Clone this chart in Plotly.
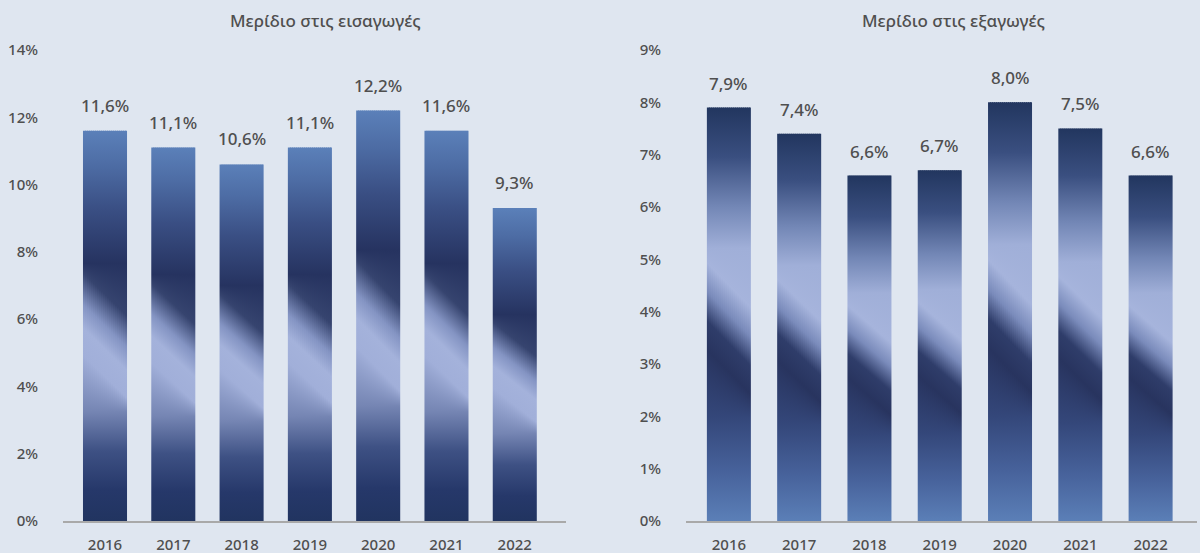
import plotly.graph_objects as go

# ---- data ----
years = ["2016", "2017", "2018", "2019", "2020", "2021", "2022"]
imports_share = [11.6, 11.1, 10.6, 11.1, 12.2, 11.6, 9.3]
exports_share = [7.9, 7.4, 6.6, 6.7, 8.0, 7.5, 6.6]
imports_ticks = [0, 2, 4, 6, 8, 10, 12, 14]
exports_ticks = [0, 1, 2, 3, 4, 5, 6, 7, 8, 9]
title_imports = "Μερίδιο στις εισαγωγές"
title_exports = "Μερίδιο στις εξαγωγές"

# ---- style ----
BG = "#dfe6f0"
FONT = "Noto Sans"
TXT = "#4f4f4f"
AXIS = "#a9a9a9"
STRIPS = 22
DIAG = 0.11

# gradient stops bottom -> top, with indices of stops forming the slanted band
left_base = [
    (0.00, "#213460"), (0.08, "#26386a"), (0.18, "#3e5184"), (0.28, "#7585b3"),
    (0.37, "#a1afd9"), (0.44, "#a4b2db"), (0.50, "#8494c3"), (0.58, "#36446f"),
    (0.66, "#263360"), (0.80, "#3a4f84"), (0.91, "#4d6ca4"), (1.00, "#5b80b9"),
]
left_diag = {4, 5, 6, 7}
right_base = [
    (0.00, "#5b7fb7"), (0.12, "#47629b"), (0.25, "#34477a"), (0.36, "#28345f"),
    (0.43, "#2f3d6a"), (0.50, "#7a8bbb"), (0.57, "#a6b4dc"), (0.66, "#a0afd8"),
    (0.76, "#7387b6"), (0.88, "#3a4f80"), (1.00, "#22365f"),
]
right_diag = {3, 4, 5, 6}


def scale_for(base, diag, shift):
    return [[p + shift if i in diag else p, c] for i, (p, c) in enumerate(base)]


fig = go.Figure()


def add_bars(values, xa, ya, base, diag, width):
    for i, v in enumerate(values):
        x_left = i - width / 2
        sw = width / STRIPS
        for j in range(STRIPS):
            u = (j + 0.5) / STRIPS
            shift = DIAG * (0.5 - u)
            x0 = x_left + j * sw
            x1 = x0 + sw + (sw * 0.5 if j < STRIPS - 1 else 0)
            fig.add_trace(go.Scatter(
                x=[x0, x1, x1, x0, x0], y=[0, 0, v, v, 0],
                mode="lines", fill="toself",
                line=dict(width=0, color="rgba(0,0,0,0)"),
                fillgradient=dict(type="vertical",
                                  colorscale=scale_for(base, diag, shift),
                                  start=0, stop=v),
                xaxis=xa, yaxis=ya, hoverinfo="skip", showlegend=False,
            ))


add_bars(imports_share, "x", "y", left_base, left_diag, 0.645)
add_bars(exports_share, "x2", "y2", right_base, right_diag, 0.626)


def fmt(v):
    return f"{v:.1f}".replace(".", ",") + "%"


LBL_FONT = dict(family=FONT, size=17, color=TXT, weight=500)
annotations = []
for i, v in enumerate(imports_share):
    annotations.append(dict(x=i, y=v, xref="x", yref="y", text=fmt(v), showarrow=False,
                            yanchor="bottom", yshift=12, font=LBL_FONT))
for i, v in enumerate(exports_share):
    annotations.append(dict(x=i, y=v, xref="x2", yref="y2", text=fmt(v), showarrow=False,
                            yanchor="bottom", yshift=11, font=LBL_FONT))
annotations.append(dict(x=325 / 1200, y=1 - 20 / 553, xref="paper", yref="paper",
                        text=title_imports, showarrow=False, xanchor="center", yanchor="middle",
                        font=dict(family=FONT, size=17, color=TXT, weight=500)))
annotations.append(dict(x=953 / 1200, y=1 - 20 / 553, xref="paper", yref="paper",
                        text=title_exports, showarrow=False, xanchor="center", yanchor="middle",
                        font=dict(family=FONT, size=17, color=TXT, weight=500)))

y_dom = [1 - 521 / 553, 1 - 50 / 553]
TICK_FONT = dict(family=FONT, size=15, color=TXT, weight=500)
common_x = dict(tickmode="array", tickvals=list(range(len(years))), ticktext=years,
                showgrid=False, zeroline=False, showline=True, linecolor=AXIS, linewidth=2,
                ticks="", ticklabelstandoff=9, fixedrange=True, automargin=False,
                tickfont=TICK_FONT)
common_y = dict(showgrid=False, zeroline=False, showline=False, ticks="",
                tickmode="array", ticklabelstandoff=24, fixedrange=True, automargin=False,
                tickfont=TICK_FONT, domain=y_dom)

fig.update_layout(
    width=1200, height=553,
    paper_bgcolor=BG, plot_bgcolor=BG,
    margin=dict(l=0, r=0, t=0, b=0, autoexpand=False),
    showlegend=False,
    xaxis=dict(common_x, domain=[63 / 1200, 566 / 1200], range=[-0.615, 6.75], anchor="y"),
    yaxis=dict(common_y, range=[0, 14], tickvals=imports_ticks,
               ticktext=[f"{t}%" for t in imports_ticks], anchor="x"),
    xaxis2=dict(common_x, domain=[686 / 1200, 1197 / 1200], range=[-0.61, 6.66], anchor="y2"),
    yaxis2=dict(common_y, range=[0, 9], tickvals=exports_ticks,
                ticktext=[f"{t}%" for t in exports_ticks], anchor="x2"),
    annotations=annotations,
)

fig.write_html("out.html", config={"displayModeBar": False},
               post_script="document.body.style.margin='0';document.body.style.overflow='hidden';")
